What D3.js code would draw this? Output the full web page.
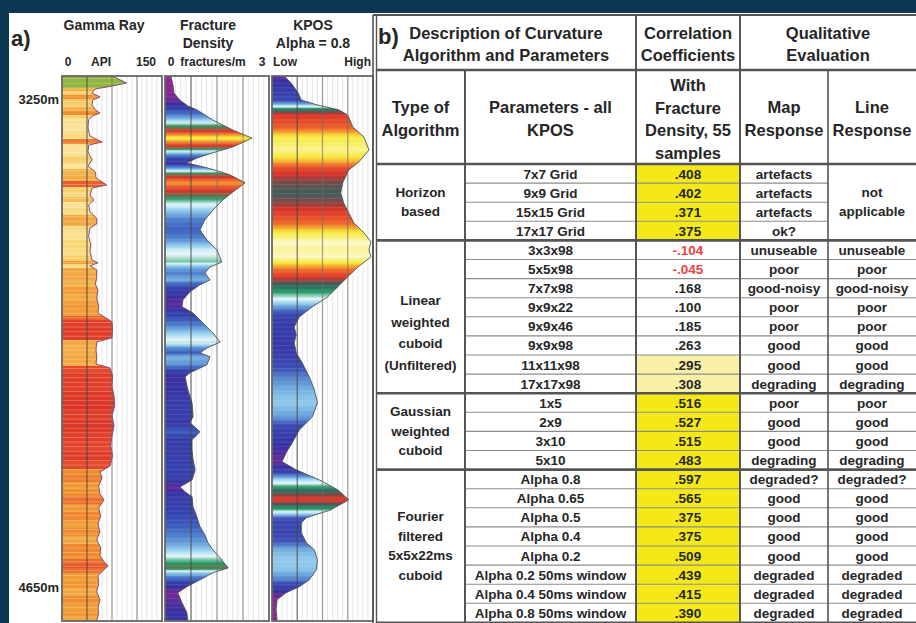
<!DOCTYPE html>
<html>
<head>
<meta charset="utf-8">
<script src="https://cdn.jsdelivr.net/npm/d3@7"></script>
<style>
  html, body { margin: 0; padding: 0; background: #0d3853; }
  svg { display: block; font-family: "Liberation Sans", Arial, sans-serif; font-weight: bold; }
</style>
</head>
<body>
<svg id="fig" width="916" height="623"></svg>
<script>
// ---------------- Well log data (depth in m) ----------------
const depthDomain = [3184, 4745];
const depthLabels = [3250, 4650];

// Gamma ray (API)
const grDepth = [3184,3195,3204,3213,3221,3233,3244,3253,3267,3281,3290,3299,3310,3333,3356,3373,3382,3402,3424,3442,
  3459,3476,3496,3505,3525,3539,3553,3573,3591,3608,3619,3642,3665,3688,3711,3719,3728,3739,3762,3780,
  3797,3820,3843,3863,3877,3888,3911,3934,3946,3968,3991,4009,4020,4043,4072,4100,4129,4157,4186,4215,
  4243,4272,4301,4318,4335,4358,4381,4398,4421,4444,4467,4490,4512,4535,4558,4575,4587,4598,4615,4638,
  4661,4684,4707,4724,4744];
const grApi = [75,87,97,75,50,45,57,46,45,50,57,45,40,39,42,60,40,39,45,39,
  50,51,67,45,42,48,40,42,52,52,42,40,43,42,45,54,42,52,52,50,
  54,52,55,54,66,75,76,75,52,51,52,51,72,76,75,78,79,75,78,75,
  73,76,72,57,60,55,57,63,55,58,54,57,52,58,57,63,69,63,54,55,
  52,57,54,55,52];

// Fracture density (fractures/m)
const fracDepth = [3184,3210,3233,3253,3270,3281,3310,3339,3362,3387,3404,3419,3433,3447,3467,3490,3516,3539,3568,3596,
  3625,3654,3682,3717,3731,3748,3768,3782,3802,3825,3845,3863,3883,3903,3920,3946,3963,3977,3988,4011,
  4034,4046,4083,4120,4160,4177,4203,4226,4255,4283,4312,4341,4361,4375,4389,4418,4447,4475,4498,4521,
  4541,4564,4593,4607,4627,4647,4664,4693,4721,4744];
const fracValue = [0.17,0.23,0.26,0.43,0.66,0.92,1.38,1.96,2.51,1.96,1.38,0.92,0.63,1.21,1.87,2.31,1.96,1.67,1.38,1.15,
  1.01,1.21,1.50,1.64,1.30,1.15,1.30,1.01,0.72,0.52,0.49,0.81,1.01,1.21,1.38,1.59,1.21,1.01,1.30,1.21,
  0.72,0.58,0.66,0.78,0.81,0.72,1.01,0.78,0.78,0.81,0.87,0.78,0.43,0.58,0.78,0.81,0.92,1.01,1.15,1.24,
  1.38,1.59,1.82,1.38,1.01,0.63,0.37,0.49,0.63,0.66];

// KPOS curvature, Alpha = 0.8 (normalised Low..High)
const kposDepth = [3184,3204,3233,3253,3267,3281,3296,3330,3359,3396,3430,3453,3490,3519,3548,3576,3605,3633,3659,3682,
  3702,3731,3759,3788,3817,3845,3874,3903,3925,3948,3977,4006,4046,4083,4120,4160,4198,4235,4263,4289,
  4312,4341,4369,4398,4427,4449,4464,4492,4521,4541,4570,4598,4627,4647,4664,4684,4713,4744];
const kposValue = [0.12,0.19,0.26,0.29,0.45,0.66,0.75,0.80,0.91,0.96,0.86,0.76,0.70,0.68,0.71,0.76,0.81,0.91,0.98,0.96,
  0.98,0.85,0.75,0.65,0.55,0.40,0.27,0.22,0.24,0.22,0.24,0.30,0.37,0.42,0.45,0.40,0.27,0.20,0.14,0.10,
  0.24,0.47,0.65,0.76,0.58,0.34,0.29,0.29,0.34,0.42,0.45,0.44,0.37,0.27,0.14,0.05,0.04,0.05];

// ---------------- Table data ----------------
const groupNames = [["Horizon","based"], ["Linear","weighted","cuboid","(Unfiltered)"], ["Gaussian","weighted","cuboid"], ["Fourier","filtered","5x5x22ms","cuboid"]];
const groupSizes = [4, 8, 4, 8];
const paramNames = ["7x7 Grid","9x9 Grid","15x15 Grid","17x17 Grid",
  "3x3x98","5x5x98","7x7x98","9x9x22","9x9x46","9x9x98","11x11x98","17x17x98",
  "1x5","2x9","3x10","5x10",
  "Alpha 0.8","Alpha 0.65","Alpha 0.5","Alpha 0.4","Alpha 0.2","Alpha 0.2 50ms window","Alpha 0.4 50ms window","Alpha 0.8 50ms window"];
const correlations = [0.408,0.402,0.371,0.375,
  -0.104,-0.045,0.168,0.100,0.185,0.263,0.295,0.308,
  0.516,0.527,0.515,0.483,
  0.597,0.565,0.375,0.375,0.509,0.439,0.415,0.390];
const highlight = ["strong","strong","strong","strong",
  "","","","","","","pale","pale",
  "strong","strong","strong","strong",
  "strong","strong","strong","strong","strong","strong","strong","strong"];
const mapResponse = ["artefacts","artefacts","artefacts","ok?",
  "unuseable","poor","good-noisy","poor","poor","good","good","degrading",
  "poor","good","good","degrading",
  "degraded?","good","good","good","good","degraded","degraded","degraded"];
const lineResponse = [null,null,null,null,
  "unuseable","poor","good-noisy","poor","poor","good","good","degrading",
  "poor","good","good","degrading",
  "degraded?","good","good","good","good","degraded","degraded","degraded"];
const mergedLineText = ["not","applicable"];

// ---------------- Drawing ----------------
const W = 916, H = 623;
const svg = d3.select("#fig");
const defs = svg.append("defs");
const ink = "#262626";

svg.append("rect").attr("width", W).attr("height", H).attr("fill", "#0d3853");
svg.append("rect").attr("x", 9).attr("y", 13).attr("width", W - 9).attr("height", H - 13).attr("fill", "#ffffff");

// ===== a) log panel =====
const y = d3.scaleLinear().domain(depthDomain).range([76, 621]);
const [yTop, yBot] = y.range();

const tracks = {
  gr:   d3.scaleLinear().domain([0, 150]).range([62, 162]),
  frac: d3.scaleLinear().domain([0, 3]).range([165, 269]),
  kpos: d3.scaleLinear().domain([0, 1]).range([272, 373])
};

const fracColor = d3.scaleLinear()
  .domain([0, 0.35, 0.6, 0.9, 1.15, 1.4, 1.55, 1.7, 2.0, 2.25, 2.45])
  .range(["#a3208c","#7a2896","#3a30a0","#3446b0","#4a7ccc","#9ad4f0","#eaf7fc","#1e9e66","#d8302a","#f07a2a","#f8ec3c"])
  .clamp(true);
const kposColor = d3.scaleLinear()
  .domain([0, 0.1, 0.18, 0.32, 0.41, 0.47, 0.53, 0.6, 0.68, 0.74, 0.82, 0.9, 0.95, 1])
  .range(["#a3208c","#6a2a9a","#3432a2","#3a4cb4","#6aa8dc","#a8dcf2","#eef8fc","#1e9a66","#3c5c5a","#d8302a","#f06a28","#f8e838","#faf07a","#ffffff"])
  .clamp(true);
const grColor = d3.scaleLinear()
  .domain([38, 44, 50, 56, 64, 73, 79])
  .range(["#fbe6a0","#f7d470","#f5b24a","#f0922e","#ea6a2c","#e4452c","#dc3426"])
  .clamp(true);
const grCapBase = 3218, grCapColor = "#8fb440";

const off = d => Math.max(0, Math.min(1, (y(d) - yTop) / (yBot - yTop)));

// smooth shading along each linear segment of a curve
function smoothStops(depths, values, color, steps) {
  const out = [];
  depths.forEach((d, i) => {
    if (i === depths.length - 1) { out.push([off(d), color(values[i])]); return; }
    for (let k = 0; k < steps; k++) {
      const t = k / steps;
      out.push([off(d + (depths[i + 1] - d) * t), color(values[i] + (values[i + 1] - values[i]) * t)]);
    }
  });
  return out;
}
// stepped (banded) shading, one band per sample
function bandStops(depths, values, color) {
  const out = [];
  depths.forEach((d, i) => {
    const a = i === 0 ? d : (depths[i - 1] + d) / 2;
    const b = i === depths.length - 1 ? d : (d + depths[i + 1]) / 2;
    const c = color(values[i], d);
    out.push([off(a), c], [off(b), c]);
  });
  return out;
}
function gradient(id, stops) {
  const g = defs.append("linearGradient").attr("id", id)
    .attr("gradientUnits", "userSpaceOnUse")
    .attr("x1", 0).attr("x2", 0).attr("y1", yTop).attr("y2", yBot);
  g.selectAll("stop").data(stops).join("stop")
    .attr("offset", s => s[0]).attr("stop-color", s => s[1]);
}

gradient("grFill", bandStops(grDepth, grApi, (v, d) => d < grCapBase ? grCapColor : grColor(v)));
gradient("fracFill", smoothStops(fracDepth, fracValue, fracColor, 6));
gradient("kposFill", smoothStops(kposDepth, kposValue, kposColor, 6));

// fine horizontal banding of the shaded fills
const stripe = defs.append("pattern").attr("id", "stripes").attr("patternUnits", "userSpaceOnUse")
  .attr("width", 8).attr("height", 4.6);
stripe.append("rect").attr("y", 0).attr("width", 8).attr("height", 0.8).attr("fill", "#ffffff");

const logs = [
  { x: tracks.gr,   depth: grDepth,   val: grApi,     fill: "url(#grFill)",   line: "#7a3f70", stripes: 0.3 },
  { x: tracks.frac, depth: fracDepth, val: fracValue, fill: "url(#fracFill)", line: "#505050", stripes: 0.12 },
  { x: tracks.kpos, depth: kposDepth, val: kposValue, fill: "url(#kposFill)", line: "#505050", stripes: 0.12 }
];

const panel = svg.append("g");
logs.forEach(L => {
  const [x0, x1] = L.x.range();
  const dom = L.x.domain();
  const g = panel.append("g");
  // fine grid
  const fine = d3.range(1, 20).map(i => dom[0] + (dom[1] - dom[0]) * i / 20);
  g.selectAll(".fine").data(fine).join("line")
    .attr("x1", v => L.x(v)).attr("x2", v => L.x(v)).attr("y1", yTop).attr("y2", yBot)
    .attr("stroke", "#d9d9d9").attr("stroke-width", 0.7);
  const pts = L.depth.map((d, i) => [d, L.val[i]]);
  const area = d3.area().y(p => y(p[0])).x0(L.x(dom[0])).x1(p => L.x(p[1]));
  const line = d3.line().y(p => y(p[0])).x(p => L.x(p[1]));
  g.append("path").attr("d", area(pts)).attr("fill", L.fill);
  g.append("path").attr("d", area(pts)).attr("fill", "url(#stripes)").attr("opacity", L.stripes);
  g.append("path").attr("d", line(pts)).attr("fill", "none").attr("stroke", L.line).attr("stroke-width", 0.9);
  // main grid, drawn over the fill
  const major = [1, 2, 3].map(i => dom[0] + (dom[1] - dom[0]) * i / 4);
  g.selectAll(".major").data(major).join("line")
    .attr("x1", v => L.x(v)).attr("x2", v => L.x(v)).attr("y1", yTop).attr("y2", yBot)
    .attr("stroke", (v, i) => i === 0 ? "rgba(70,70,70,0.7)" : "rgba(110,110,110,0.6)")
    .attr("stroke-width", 1.3);
  // track frame
  g.append("rect").attr("x", x0).attr("y", yTop).attr("width", x1 - x0).attr("height", yBot - yTop)
    .attr("fill", "none").attr("stroke", "#666").attr("stroke-width", 1.8);
});

// depth labels
panel.selectAll(".depth").data(depthLabels).join("text")
  .attr("x", 59).attr("y", d => y(d)).attr("text-anchor", "end").attr("dominant-baseline", "central")
  .attr("font-size", 13).attr("fill", ink).text(d => d + "m");

// headers
const hdr = (t, x, yy, size, anchor) => panel.append("text").attr("x", x).attr("y", yy)
  .attr("text-anchor", anchor || "middle").attr("dominant-baseline", "central")
  .attr("font-size", size).attr("fill", ink).text(t);
hdr("a)", 11, 38, 22, "start");
hdr("Gamma Ray", 104, 25, 14);
hdr("Fracture", 208, 25, 14);
hdr("Density", 208, 43, 14);
hdr("KPOS", 313, 25, 14);
hdr("Alpha = 0.8", 313, 43, 14);
hdr(String(tracks.gr.domain()[0]), 68, 62, 12);
hdr("API", 101, 62, 12);
hdr(String(tracks.gr.domain()[1]), 146, 62, 12);
hdr(String(tracks.frac.domain()[0]), 171, 62, 12);
hdr("fractures/m", 213, 62, 12);
hdr(String(tracks.frac.domain()[1]), 262, 62, 12);
hdr("Low", 273, 62, 12, "start");
hdr("High", 371, 62, 12, "end");

// ===== b) table =====
const colX = [376, 465, 636, 740, 828, 916];
const tTop = 15, h1 = 70, h2 = 164, rowH = 19.1;
const rowY = i => h2 + i * rowH;
const nRows = paramNames.length;
const tBot = rowY(nRows);
const tbl = svg.append("g");
const colMid = i => (colX[i] + colX[i + 1]) / 2;

// highlighted coefficient cells
tbl.selectAll(".hl").data(highlight.map((h, i) => ({ h, i })).filter(d => d.h)).join("rect")
  .attr("x", colX[2]).attr("y", d => rowY(d.i)).attr("width", colX[3] - colX[2]).attr("height", rowH)
  .attr("fill", d => d.h === "strong" ? "#f4e818" : "#f8f0a6");

// thin row rules
const groupStarts = d3.cumsum([0, ...groupSizes]).slice(0, -1);
const rowRules = d3.range(1, nRows).filter(i => !groupStarts.includes(i));
tbl.selectAll(".rr").data(rowRules).join("line")
  .attr("x1", colX[1]).attr("x2", i => lineResponse[i] === null ? colX[4] : colX[5])
  .attr("y1", i => rowY(i)).attr("y2", i => rowY(i))
  .attr("stroke", "#8c8c8c").attr("stroke-width", 1.1);

// heavy rules
const heavy = (x1, y1, x2, y2, w) => tbl.append("line").attr("x1", x1).attr("y1", y1).attr("x2", x2).attr("y2", y2)
  .attr("stroke", "#555").attr("stroke-width", w || 2);
heavy(373, tTop, W, tTop, 2);
heavy(colX[0], h1, W, h1, 2.6);
heavy(colX[0], h2, W, h2, 2.6);
groupStarts.slice(1).forEach(i => heavy(colX[0], rowY(i), W, rowY(i), 2.6));
heavy(colX[0], tBot, W, tBot, 2);
heavy(373, tTop, 373, H, 1.6);
heavy(376.5, tTop, 376.5, H, 1.4);
heavy(colX[1], h1, colX[1], tBot, 2);
heavy(colX[2], tTop, colX[2], tBot, 2);
heavy(colX[3], tTop, colX[3], tBot, 2);
heavy(colX[4], h1, colX[4], tBot, 1.6);

const txt = (t, x, yy, size, color, anchor) => tbl.append("text").attr("x", x).attr("y", yy)
  .attr("text-anchor", anchor || "middle").attr("dominant-baseline", "central")
  .attr("font-size", size).attr("fill", color || ink).text(t);

// header row 1
txt("b)", 378, 36, 22, ink, "start");
txt("Description of Curvature", 506, 33, 16.5);
txt("Algorithm and Parameters", 506, 55, 16.5);
txt("Correlation", colMid(2), 33, 16.5);
txt("Coefficients", colMid(2), 55, 16.5);
txt("Qualitative", (colX[3] + colX[5]) / 2, 33, 16.5);
txt("Evaluation", (colX[3] + colX[5]) / 2, 55, 16.5);
// header row 2
txt("Type of", colMid(0), 107, 16.5);
txt("Algorithm", colMid(0), 130, 16.5);
txt("Parameters - all", colMid(1), 107, 16.5);
txt("KPOS", colMid(1), 130, 16.5);
["With", "Fracture", "Density, 55", "samples"].forEach((t, i) => txt(t, colMid(2), 85 + i * 22.5, 16.5));
txt("Map", colMid(3), 107, 16.5);
txt("Response", colMid(3), 130, 16.5);
txt("Line", colMid(4), 107, 16.5);
txt("Response", colMid(4), 130, 16.5);

// group labels
const fmtR = v => d3.format(".3f")(v).replace("\u2212", "-").replace(/^(-?)0\./, "$1.");
groupNames.forEach((lines, gi) => {
  const top = rowY(groupStarts[gi]), bot = rowY(groupStarts[gi] + groupSizes[gi]);
  const linear = gi === 1;
  const gap = linear ? 21.5 : 19.5;
  const mid = (top + bot) / 2 + (linear ? 16 : 0);
  lines.forEach((t, k) => txt(t, colMid(0), mid + (k - (lines.length - 1) / 2) * gap, 13.5));
});

// rows
paramNames.forEach((p, i) => {
  const cy = rowY(i) + rowH / 2 + 0.5;
  txt(p, colMid(1), cy, 13.5);
  txt(fmtR(correlations[i]), colMid(2), cy, 13.5, correlations[i] < 0 ? "#e8453c" : ink);
  txt(mapResponse[i], colMid(3), cy, 13.5);
  if (lineResponse[i] !== null) txt(lineResponse[i], colMid(4), cy, 13.5);
});
mergedLineText.forEach((t, k) => txt(t, colMid(4), (rowY(0) + rowY(4)) / 2 + (k - 0.5) * 19.5, 13.5));
</script>
</body>
</html>
